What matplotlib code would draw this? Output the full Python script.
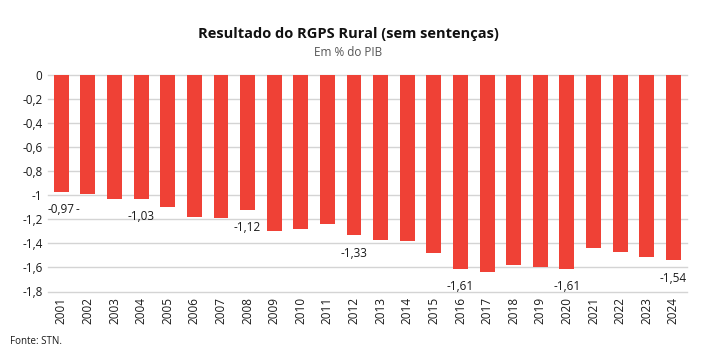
import numpy as np
import matplotlib.pyplot as plt

plt.rcParams['font.family'] = ['Open Sans', 'DejaVu Sans']

anos = [str(a) for a in range(2001, 2025)]
resultado = [-0.97, -0.99, -1.03, -1.03, -1.10, -1.18, -1.19, -1.12, -1.30, -1.28,
             -1.24, -1.33, -1.37, -1.38, -1.48, -1.61, -1.64, -1.58, -1.60, -1.61,
             -1.44, -1.47, -1.51, -1.54]
rotulados = ['2001', '2004', '2008', '2012', '2016', '2020', '2024']
yticks = [0, -0.2, -0.4, -0.6, -0.8, -1, -1.2, -1.4, -1.6, -1.8]
ytick_labels = ['0', '-0,2', '-0,4', '-0,6', '-0,8', '-1', '-1,2', '-1,4', '-1,6', '-1,8']

fig = plt.figure(figsize=(7.09, 3.47), dpi=100)
ax = fig.add_axes([48 / 709, 1 - 291.5 / 347, 638.7 / 709, 216.5 / 347])

x = np.arange(len(anos))
ax.bar(x, resultado, width=0.56, color='#ef4136', zorder=3)

ax.set_ylim(-1.8, 0)
ax.set_xlim(-0.5, len(anos) - 0.5)
ax.set_yticks(yticks)
ax.set_yticklabels(ytick_labels, fontsize=8.5, color='#1a1a1a')
ax.set_xticks(x)
ax.set_xticklabels(anos, rotation=90, fontsize=8.5, color='#1a1a1a')
ax.tick_params(length=0, pad=4)
for y in yticks:
	ax.axhline(y, color='#d4d4d4', linewidth=1.0, zorder=0, clip_on=False)

for spine in ax.spines.values():
	spine.set_visible(False)

for i, (ano, v) in enumerate(zip(anos, resultado)):
	if ano in rotulados:
		ax.annotate(f'{v:.2f}'.replace('.', ','), xy=(i, v), xytext=(0, -13),
		            textcoords='offset points', ha='center', va='center',
		            fontsize=8.5, color='#1a1a1a')
ax.annotate('-', xy=(0.6, resultado[0]), xytext=(0, -13), textcoords='offset points',
            ha='center', va='center', fontsize=8.5, color='#1a1a1a')

fig.text(348 / 709, 1 - 34 / 347, 'Resultado do RGPS Rural (sem sentenças)',
         ha='center', va='center', fontsize=10.5, fontweight='bold', color='#111111')
fig.text(348 / 709, 1 - 52 / 347, 'Em % do PIB', ha='center', va='center',
         fontsize=8.5, color='#555555')
fig.text(10 / 709, 1 - 341 / 347, 'Fonte: STN.', ha='left', va='center',
         fontsize=7, color='#1a1a1a')

fig.savefig('out.png')
plt.close(fig)
